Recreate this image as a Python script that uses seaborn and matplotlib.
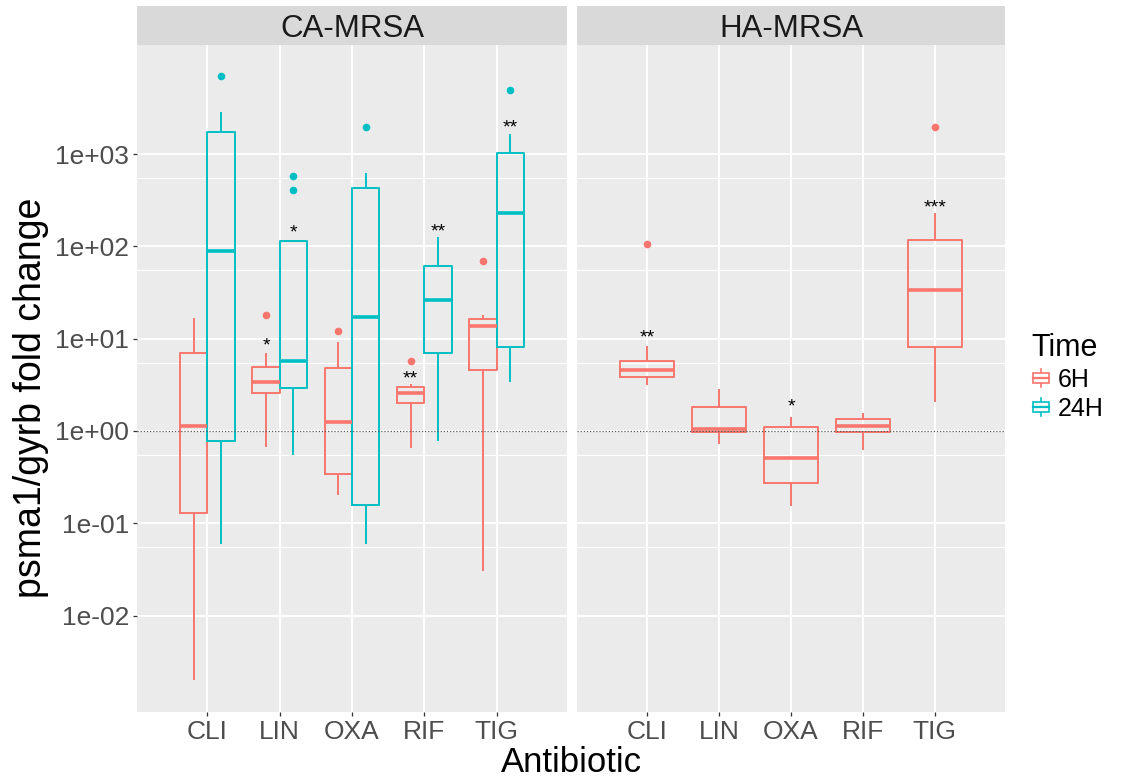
import matplotlib
matplotlib.use("Agg")
import numpy as np
import pandas as pd
import matplotlib.pyplot as plt
import seaborn as sns
from matplotlib.patches import Patch, Rectangle
from matplotlib.lines import Line2D
from matplotlib.legend_handler import HandlerBase
from matplotlib.ticker import FixedLocator, FuncFormatter, NullFormatter

plt.rcParams['font.family'] = ['Liberation Sans', 'DejaVu Sans']

# ===================== data =====================
ANTIBIOTICS = ["CLI", "LIN", "OXA", "RIF", "TIG"]
STRAINS = ["CA-MRSA", "HA-MRSA"]
TIMES = ["6H", "24H"]
COLORS = {"6H": "#F8766D", "24H": "#00BFC4"}

# fold change per isolate, one list per antibiotic (CLI, LIN, OXA, RIF, TIG)
CA_6H = [
    [0.002, 0.05, 0.13, 0.6, 1.14, 3.1, 7.0, 12.0, 16.8],
    [0.67, 1.8, 2.55, 3.0, 3.36, 4.2, 4.96, 6.9, 18.0],
    [0.20, 0.27, 0.34, 0.8, 1.26, 2.9, 4.77, 9.3, 12.0],
    [0.66, 1.5, 1.99, 2.3, 2.59, 2.8, 2.97, 3.2, 5.7],
    [0.03, 1.2, 4.57, 9.0, 13.8, 15.0, 16.3, 18.0, 70.0],
]
CA_24H = [
    [0.06, 0.3, 0.78, 20.0, 90.0, 600.0, 1750.0, 2870.0, 7050.0],
    [0.55, 1.5, 2.94, 4.0, 5.7, 40.0, 115.0, 404.0, 582.0],
    [0.06, 0.1, 0.157, 3.0, 17.0, 150.0, 425.0, 618.0, 1950.0],
    [0.78, 3.0, 6.93, 15.0, 26.2, 45.0, 61.2, 90.0, 127.0],
    [3.4, 5.0, 8.17, 60.0, 231.0, 600.0, 1033.0, 1633.0, 4940.0],
]
HA_6H = [
    [3.14, 3.5, 3.87, 4.2, 4.57, 5.2, 5.77, 8.37, 107.0],
    [0.72, 0.9, 0.973, 1.0, 1.04, 1.4, 1.83, 2.3, 2.84],
    [0.154, 0.2, 0.27, 0.4, 0.505, 0.8, 1.09, 1.2, 1.40],
    [0.62, 0.9, 0.98, 1.05, 1.14, 1.25, 1.35, 1.45, 1.55],
    [2.07, 4.0, 8.17, 20.0, 33.6, 70.0, 117.0, 228.0, 1950.0],
]

# significance marks
STAR_PANEL = ["CA-MRSA"] * 5 + ["HA-MRSA"] * 3
STAR_ABX = ["LIN", "LIN", "RIF", "RIF", "TIG", "CLI", "OXA", "TIG"]
STAR_TIME = ["6H", "24H", "6H", "24H", "24H", "6H", "6H", "6H"]
STAR_TEXT = ["*", "*", "**", "**", "**", "**", "*", "***"]
STAR_Y = [9.7, 166, 4.27, 170, 2240, 11.9, 2.15, 304]

rows = []
for strain, time, groups in [("CA-MRSA", "6H", CA_6H), ("CA-MRSA", "24H", CA_24H),
                             ("HA-MRSA", "6H", HA_6H)]:
    for abx, vals in zip(ANTIBIOTICS, groups):
        for v in vals:
            rows.append((strain, abx, time, v))
df = pd.DataFrame(rows, columns=["Strain", "Antibiotic", "Time", "Fold"])


# ===================== legend key: small boxplot glyph =====================
class BoxKey(HandlerBase):
    def create_artists(self, legend, orig_handle, xdescent, ydescent, width, height, fontsize, trans):
        c = orig_handle.get_edgecolor()
        x0, y0 = -xdescent, -ydescent
        cx = x0 + width / 2
        arts = [
            Line2D([cx, cx], [y0, y0 + height], color=c, lw=1.2),
            Rectangle((x0 + width * 0.1, y0 + height * 0.22), width * 0.8, height * 0.56,
                      facecolor="white", edgecolor=c, lw=1.2),
            Line2D([x0 + width * 0.1, x0 + width * 0.9], [y0 + height / 2] * 2, color=c, lw=1.6),
        ]
        for a in arts:
            a.set_transform(trans)
        return arts


# ===================== figure =====================
W, H = 1125, 783
fig = plt.figure(figsize=(W / 100, H / 100), dpi=100)


def px_box(x0, y0, x1, y1):
    return [x0 / W, 1 - y1 / H, (x1 - x0) / W, (y1 - y0) / H]


PANEL_X = {"CA-MRSA": (137, 567), "HA-MRSA": (577, 1005)}
axes = {}
for strain in STRAINS:
    x0, x1 = PANEL_X[strain]
    ax = fig.add_axes(px_box(x0, 45, x1, 712))
    axes[strain] = ax
    sub = df[df["Strain"] == strain]
    present = [t for t in TIMES if t in sub["Time"].unique()]
    sns.boxplot(data=sub, x="Antibiotic", y="Fold", hue="Time", order=ANTIBIOTICS,
                hue_order=present, palette=COLORS, fill=False, width=0.76, gap=0,
                showcaps=False, linewidth=1.4, medianprops=dict(linewidth=2.6),
                flierprops=dict(marker="o", markersize=5.5), legend=False, ax=ax)
    for p in ax.patches:
        p.set_facecolor("white")
    for ln in ax.lines:
        if ln.get_marker() == "o":
            ln.set_markerfacecolor(ln.get_markeredgecolor())
            ln.set_markeredgewidth(0)

    ax.set_yscale("log")
    ax.set_ylim(10 ** -3.045, 10 ** 4.181)
    ax.set_xlim(-0.975, 4.975)
    ax.yaxis.set_major_locator(FixedLocator(10.0 ** np.arange(-2, 4)))
    ax.yaxis.set_minor_locator(FixedLocator(5.5 * 10.0 ** np.arange(-2, 3)))
    ax.yaxis.set_minor_formatter(NullFormatter())
    ax.yaxis.set_major_formatter(FuncFormatter(lambda v, p: f"{v:.0e}"))

    ax.set_facecolor("#EBEBEB")
    for s in ax.spines.values():
        s.set_visible(False)
    ax.set_axisbelow(True)
    ax.grid(which="major", color="white", linewidth=1.4)
    ax.grid(which="minor", axis="y", color="white", linewidth=0.8)
    ax.tick_params(which="major", length=3, width=0.9, color="#333333",
                   labelcolor="#4D4D4D", labelsize=19, pad=2.5)
    ax.tick_params(which="minor", length=0)
    ax.axhline(1, color="#555555", ls=(0, (1, 1.5)), lw=0.9, zorder=5)
    ax.set_xlabel("")
    ax.set_ylabel("")
    if strain == "HA-MRSA":
        ax.tick_params(axis="y", left=False, labelleft=False)

    # facet strip
    sax = fig.add_axes(px_box(x0, 6, x1, 45))
    sax.set_facecolor("#D9D9D9")
    sax.set_xticks([])
    sax.set_yticks([])
    for s in sax.spines.values():
        s.set_visible(False)
    sax.text(0.5, 0.4, strain, ha="center", va="center", fontsize=22.5, color="#1A1A1A",
             transform=sax.transAxes)

# significance asterisks
for panel, abx, t, lab, yv in zip(STAR_PANEL, STAR_ABX, STAR_TIME, STAR_TEXT, STAR_Y):
    ax = axes[panel]
    shift = 0 if panel == "HA-MRSA" else (-0.19 if t == "6H" else 0.19)
    ax.annotate(lab, (ANTIBIOTICS.index(abx) + shift, yv), xytext=(0, -8),
                textcoords="offset points", ha="center", va="baseline",
                fontsize=14, color="black", zorder=6)

fig.text(571 / W, 1 - 771.5 / H, "Antibiotic", ha="center", va="baseline", fontsize=25)
fig.text(31 / W, 1 - 398 / H, "psma1/gyrb fold change", rotation=90,
         ha="center", va="center", fontsize=27)

handles = [Patch(facecolor="white", edgecolor=COLORS[t], label=t) for t in TIMES]
fig.legend(handles=handles, labels=TIMES, handler_map={Patch: BoxKey()}, title="Time",
           loc="upper left", bbox_to_anchor=(1031 / W, 1 - 333 / H), frameon=False,
           fontsize=18, title_fontsize=22, handlelength=0.78, handleheight=0.75,
           handletextpad=0.3, labelspacing=0.2, borderpad=0, borderaxespad=0,
           alignment="left")

fig.savefig("out.png", dpi=100)
